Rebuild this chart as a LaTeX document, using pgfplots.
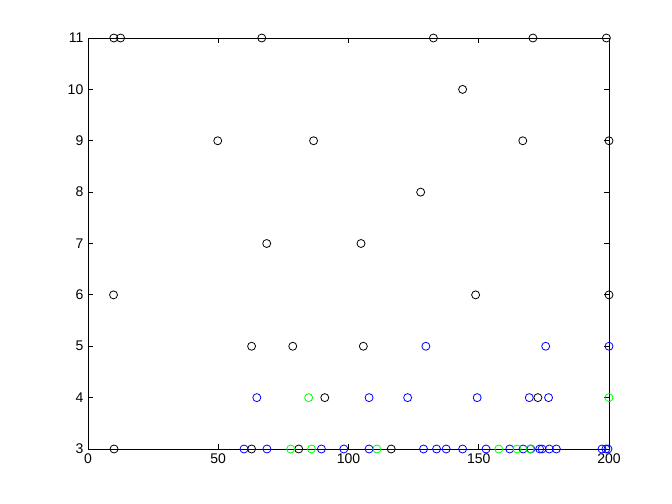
\documentclass[border=0pt]{standalone}
\usepackage{fontspec}
\setmainfont{Liberation Sans}
\usepackage{pgfplots}
\pgfplotsset{compat=1.18}
\definecolor{mblue}{rgb}{0,0,1}
\definecolor{mgreen}{rgb}{0,1,0}
\begin{document}
\begin{tikzpicture}[x=1pt,y=1pt]
\path[fill=white] (0,0) rectangle (504,378);
\begin{axis}[
  at={(66pt,41.25pt)}, anchor=south west,
  scale only axis, width=390.75pt, height=308.25pt,
  xmin=0, xmax=200, ymin=3, ymax=11,
  xtick={0,50,100,150,200}, ytick={3,4,5,6,7,8,9,10,11},
  tick align=inside, major tick length=3.75pt,
  xtick pos=both, ytick pos=both,
  axis line style={line width=0.6pt}, tick style={line width=0.6pt,black},
  ticklabel style={font=\fontsize{10.5}{12}\selectfont},
  /pgf/number format/assume math mode=true,
  clip=false, axis on top,
  every axis plot/.append style={only marks, mark=o, mark size=3pt, mark options={line width=0.6pt}},
]
\addplot[black] coordinates {
(9.9,11)(12.5,11)(66.7,11)(132.6,11)(170.8,11)(199,11)
(143.8,10)
(49.8,9)(86.6,9)(166.9,9)(200,9)
(127.7,8)
(68.6,7)(104.8,7)
(9.8,6)(148.8,6)(200,6)
(62.8,5)(78.6,5)(105.7,5)
(90.9,4)(172.7,4)
(10,3)(62.8,3)(80.9,3)(116.4,3)
};
\addplot[mblue] coordinates {
(129.7,5)(175.7,5)(200,5)
(64.8,4)(107.9,4)(122.7,4)(149.4,4)(169.4,4)(176.8,4)
(59.9,3)(68.7,3)(89.6,3)(98.2,3)(107.9,3)(128.8,3)(133.8,3)(137.5,3)(143.8,3)
(152.8,3)(161.9,3)(167.0,3)(170.0,3)(173.4,3)(174.3,3)(177.1,3)(179.8,3)
(197.3,3)(198.8,3)(199.6,3)
};
\addplot[mgreen] coordinates {
(84.7,4)(200,4)
(77.8,3)(85.8,3)(110.9,3)(157.7,3)(164.7,3)(169.7,3)
};
\end{axis}
\end{tikzpicture}
\end{document}
